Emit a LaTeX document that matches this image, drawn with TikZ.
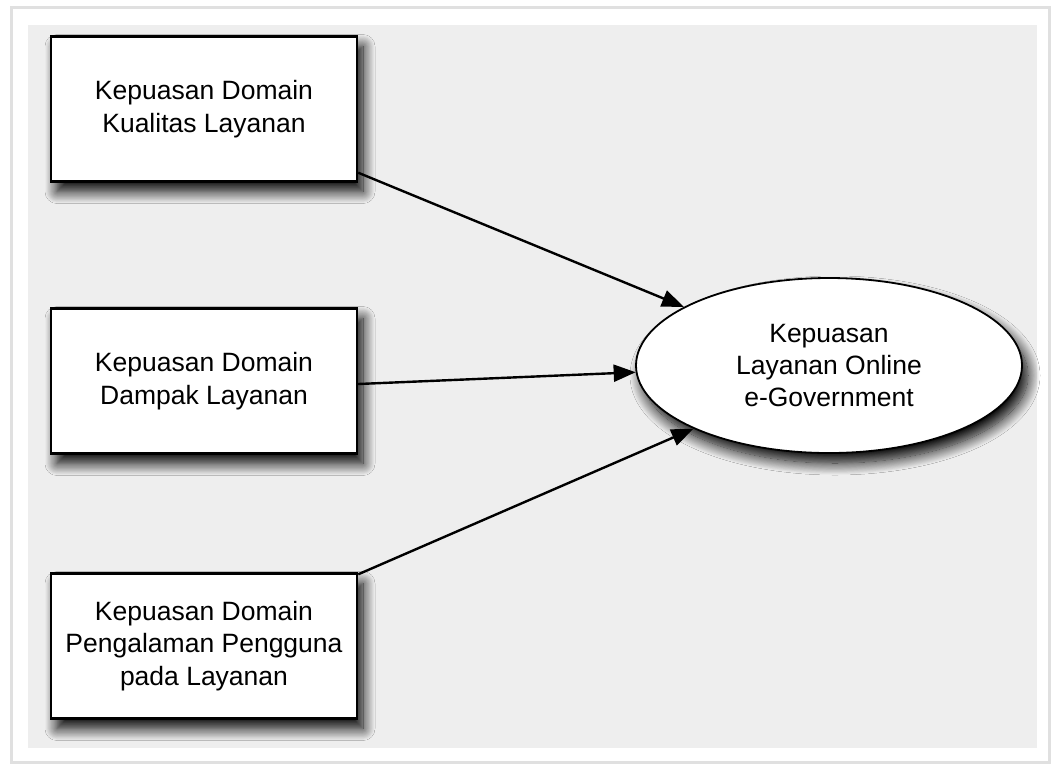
\documentclass[tikz,border=0pt]{standalone}
\usepackage{fontspec}
\setmainfont{Liberation Sans}
\usetikzlibrary{shapes.geometric,arrows.meta,shadows.blur}
\definecolor{panel}{HTML}{EEEEEE}
\begin{document}
\begin{tikzpicture}[x=1pt,y=-1pt,
  shad/.style={blur shadow={shadow xshift=6pt,shadow yshift=-10pt,shadow blur radius=12pt,shadow blur steps=16,shadow opacity=100}},
  boxnode/.style={draw=black,line width=2.4pt,fill=white,minimum width=306pt,minimum height=145pt,
     inner sep=0pt,align=center,font=\fontsize{26.5}{32.5}\selectfont,shad},
  ellnode/.style={ellipse,draw=black,line width=1.8pt,fill=white,minimum width=386pt,minimum height=175pt,
     inner sep=0pt,align=center,font=\fontsize{26.5}{32}\selectfont,shad},
  conn/.style={line width=2.4pt,-{Triangle[length=22pt,width=17pt]}}]
\useasboundingbox (0,0) rectangle (1051,764);
\fill[white] (0,0) rectangle (1051,764);
\draw[black!12,line width=3pt] (11,7) rectangle (1049,762);
\fill[panel] (28,25) rectangle (1037,748);
\node[boxnode] (b1) at (204,109) {Kepuasan Domain\\Kualitas Layanan};
\node[boxnode] (b2) at (204,381) {Kepuasan Domain\\Dampak Layanan};
\node[boxnode] (b3) at (204,646) {Kepuasan Domain\\Pengalaman Pengguna\\pada Layanan};
\node[ellnode] (e) at (829,365.5) {Kepuasan\\Layanan Online\\e-Government};
\draw[conn] ([yshift=10pt]b1.south east) -- (e.158);
\draw[conn] ([yshift=-3pt]b2.east) -- (e.182);
\draw[conn] ([yshift=-2pt]b3.north east) -- (e.205);
\end{tikzpicture}
\end{document}
